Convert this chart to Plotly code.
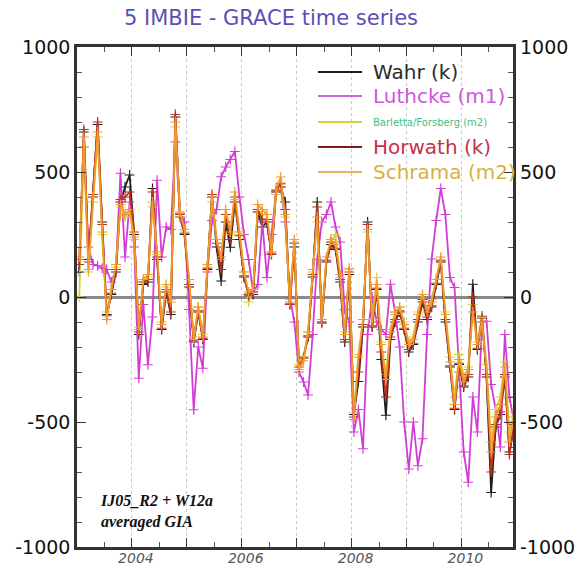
import plotly.graph_objects as go

# ---- data (monthly, Jan 2003 .. Dec 2010), Gt ----
month_index = list(range(96))

wahr = [
    100, 660, 150, 400, 690, 300, -70, 10, 100, 380, 440, 488,
    250, -150, 50, 60, 434, 150, -130, 20, -70, 720, 320, 250,
    40, -180, -60, -170, 110, 400, 200, 64, 300, 199, 380, 230,
    80, 11, 10, 340, 280, 300, 172, 420, 440, 380, -28, 200,
    -270, -240, -160, 80, 380, -100, 140, 210, 190, 60, -180, 90,
    -470, -338, -120, 300, -120, 30, -250, -473, -170, -100, -60, -130,
    -220, -190, -100, -20, -90, -40, 50, 140, -100, -280, -450, -270,
    -360, -320, 51, -210, -77, -320, -782, -520, -470, -320, -620, -520,
]
luthcke = [
    150, 600, 200, 130, 125, 115, 110, 60, 110, 495, 160, 380,
    200, -325, -30, -271, -80, 467, 160, 280, 270, 620, 335, 300,
    -50, -451, -200, -285, 100, 306, 350, 481, 520, 550, 582, 400,
    250, 150, 20, 50, 300, 78, 250, 420, 440, 300, 0, -100,
    -300, -340, -392, -150, 150, 300, 330, 380, 280, 220, -50, -100,
    -540, -450, -607, -150, 0, -100, -130, -150, 51, -60, -200, -500,
    -688, -500, -675, -567, -150, 152, 306, 434, 330, 78, 38, -300,
    -620, -741, -400, -540, -100, -97, -350, -450, -600, -150, -400, -500,
]
barletta = [
    0, 600, 100, 380, 640, 250, -60, 30, 120, 360, 320, 340,
    230, -120, 60, 80, 360, 170, -100, 40, -10, 680, 320, 260,
    70, -160, -40, -150, 120, 380, 230, 150, 330, 250, 390, 250,
    100, -20, 30, 350, 330, 330, 180, 410, 450, 320, -10, 220,
    -270, -240, -140, 100, 300, -90, 150, 220, 250, 78, -140, 110,
    -460, -230, -90, 260, -90, 78, -180, -310, -130, -60, -40, -100,
    -180, -160, -60, 10, -50, -10, 70, 150, -60, -240, -400, -230,
    -320, -280, -30, -180, -80, -270, -580, -450, -400, -260, -540, -460,
]
horwath = [
    130, 670, 140, 410, 700, 290, -75, 15, 110, 390, 400, 420,
    260, -140, 60, 70, 420, 160, -125, 30, -60, 730, 330, 255,
    50, -175, -55, -165, 115, 410, 215, 110, 330, 230, 400, 245,
    85, 5, 20, 350, 310, 310, 170, 425, 455, 350, -30, 215,
    -280, -245, -155, 90, 360, -105, 145, 220, 195, 70, -170, 100,
    -480, -300, -110, 290, -115, 35, -220, -400, -160, -90, -55, -125,
    -210, -185, -90, -10, -80, -35, 55, 145, -90, -275, -445, -265,
    -355, -310, 0, -205, -85, -310, -700, -510, -460, -310, -630, -510,
]
schrama = [
    160, 640, 110, 400, 660, 260, -90, 30, 130, 370, 330, 350,
    240, -130, 70, 90, 380, 180, -110, 50, -20, 700, 340, 270,
    70, -170, -40, -160, 130, 400, 230, 160, 350, 260, 420, 260,
    100, 20, 30, 370, 350, 330, 180, 430, 480, 330, -20, 230,
    -290, -255, -140, 110, 320, -90, 160, 230, 210, 90, -150, 115,
    -490, -240, -90, 270, -100, 50, -190, -330, -140, -70, -40, -110,
    -190, -170, -70, 10, -60, -20, 70, 160, -70, -260, -430, -250,
    -340, -290, -60, -190, -100, -290, -620, -480, -430, -280, -580, -480,
]

series_names = ["Wahr (k)", "Luthcke (m1)", "Barletta/Forsberg (m2)", "Horwath (k)", "Schrama (m2)"]
series_values = [wahr, luthcke, barletta, horwath, schrama]
line_colors = ["#1e1e1e", "#d23cd6", "#d6d23a", "#c0301c", "#f29a2e"]
legend_line_colors = ["#1e1e1e", "#c868d8", "#d6d23a", "#7a1c1c", "#f0b060"]
text_colors = ["#2a2a2a", "#d255e0", "#3cbf7a", "#c8304a", "#d9b040"]
text_sizes = [20, 20, 10, 20, 20]

year_ticks = list(range(2003, 2012))
year_labels = ["", "2004", "", "2006", "", "2008", "", "2010", ""]
y_ticks = [-1000, -500, 0, 500, 1000]
y_labels = ["-1000", "-500", "0", "500", "1000"]

t = [2003 + (i + 0.5) / 12 for i in month_index]

W, H = 582, 569
ML, MR, MT, MB = 77, 69, 47, 22
PW, PH = W - ML - MR, H - MT - MB


def px_x(px):
    return (px - ML) / PW


def px_y(py):
    return 1 - (py - MT) / PH


fig = go.Figure()

for name, vals, lc in zip(series_names, series_values, line_colors):
    fig.add_trace(go.Scatter(
        x=t, y=vals, mode="lines+markers", name=name,
        showlegend=False,
        line=dict(color=lc, width=1.8),
        marker=dict(symbol="cross-thin", size=7, line=dict(color=lc, width=1.2)),
        hoverinfo="skip",
    ))

# dummy trace to activate right-hand axis
fig.add_trace(go.Scatter(x=[2003.5], y=[0], yaxis="y2", mode="markers",
                         marker=dict(opacity=0), showlegend=False, hoverinfo="skip"))

# manual legend (line samples + coloured labels)
legend_rows = [72, 96, 122, 147, 172]
shapes = []
annotations = []
for name, llc, tc, ts, row in zip(series_names, legend_line_colors, text_colors, text_sizes, legend_rows):
    shapes.append(dict(type="line", xref="paper", yref="paper",
                       x0=px_x(318), x1=px_x(362), y0=px_y(row), y1=px_y(row),
                       line=dict(color=llc, width=1.8)))
    annotations.append(dict(text=name, xref="paper", yref="paper",
                            x=px_x(371), y=px_y(row), xanchor="left", yanchor="middle",
                            showarrow=False,
                            font=dict(size=ts, color=tc, family="DejaVu Sans")))

annotations.append(dict(
    text="<b><i>IJ05_R2 + W12a<br>averaged GIA</i></b>",
    xref="paper", yref="paper", x=px_x(98), y=px_y(490), xanchor="left", yanchor="top",
    showarrow=False, align="left",
    font=dict(size=16, family="Liberation Serif", color="#111"),
))

fig.update_layout(
    width=W, height=H,
    margin=dict(l=ML, r=MR, t=MT, b=MB, autoexpand=False),
    paper_bgcolor="white", plot_bgcolor="white",
    font=dict(family="DejaVu Sans", color="#222"),
    title=dict(text="5 IMBIE - GRACE time series", x=271 / W, xanchor="center",
               y=1 - 18 / H, yanchor="middle",
               font=dict(size=21, color="#5a4fb8", family="DejaVu Sans")),
    showlegend=False,
    xaxis=dict(
        range=[2003.0, 2010.94], tickvals=year_ticks, ticktext=year_labels,
        ticks="inside", ticklen=9, tickwidth=1.2, tickcolor="#333",
        minor=dict(dtick=0.5, tick0=2003, ticks="inside", ticklen=5, tickcolor="#555", showgrid=False),
        showline=True, linecolor="#333", linewidth=2.5, mirror="ticks",
        showgrid=True, gridcolor="#c8c8c8", griddash="dot", gridwidth=1,
        zeroline=False, automargin=False, ticklabelshift=4, ticklabelstandoff=-4,
        tickfont=dict(size=14, color="#555", family="DejaVu Sans", style="italic"),
    ),
    yaxis=dict(
        range=[-1000, 1000], tickvals=y_ticks, ticktext=y_labels,
        ticks="inside", ticklen=9, tickwidth=1.2, tickcolor="#333",
        minor=dict(dtick=100, tick0=0, ticks="inside", ticklen=5, tickcolor="#555", showgrid=False),
        showline=True, linecolor="#333", linewidth=2.5, mirror="ticks",
        showgrid=False, zeroline=True, zerolinecolor="#8a8a8a", zerolinewidth=2.5,
        automargin=False,
        tickfont=dict(size=19, color="#111", family="DejaVu Sans"),
    ),
    yaxis2=dict(
        range=[-1000, 1000], tickvals=y_ticks, ticktext=y_labels,
        overlaying="y", side="right", anchor="x",
        ticks="", showline=False, showgrid=False, zeroline=False,
        automargin=False, ticklabelstandoff=6,
        tickfont=dict(size=19, color="#111", family="DejaVu Sans"),
    ),
    shapes=shapes,
    annotations=annotations,
)

fig.write_html("out.html", config={"displayModeBar": False},
               post_script="document.body.style.margin='0';")
